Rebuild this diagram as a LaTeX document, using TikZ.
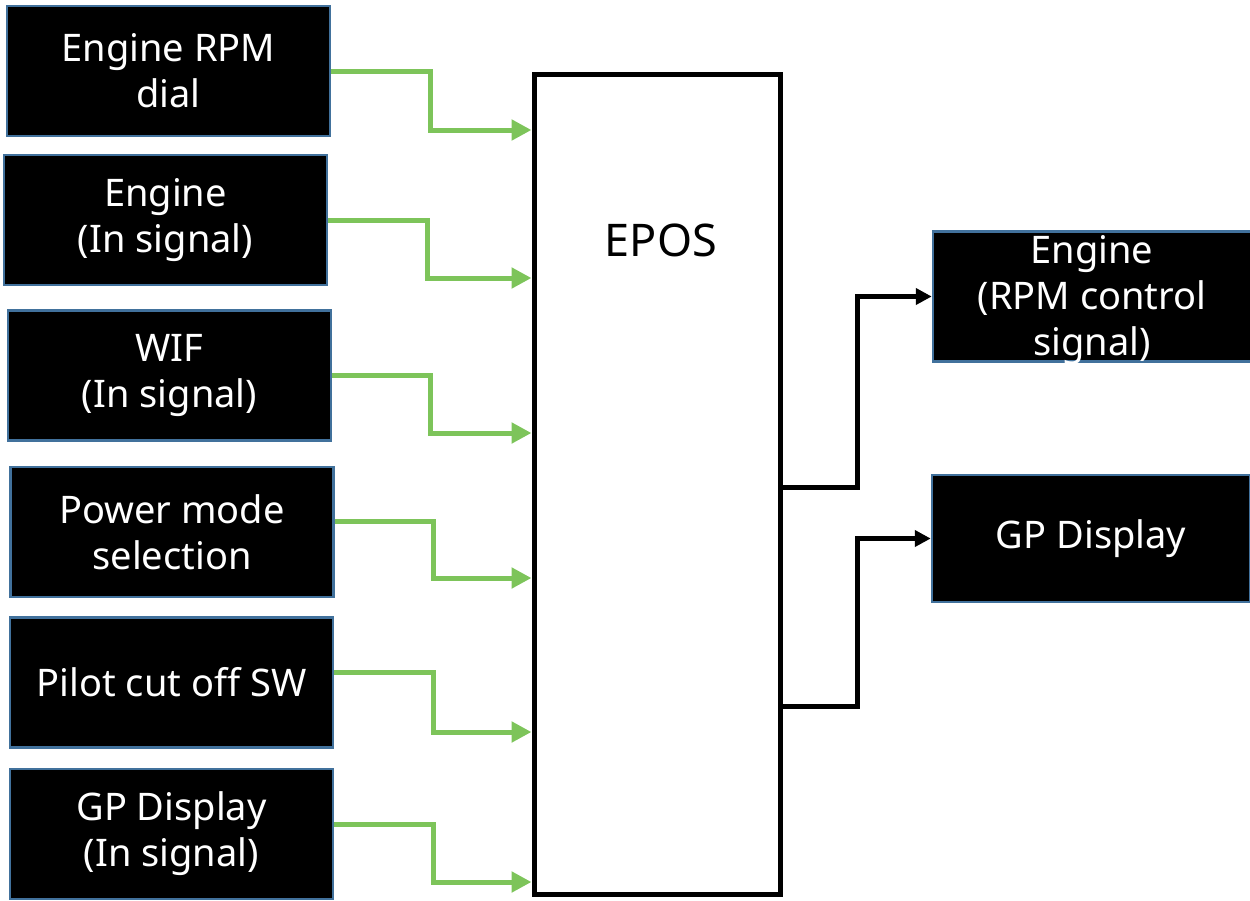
\documentclass[tikz,border=0pt]{standalone}
\usepackage{fontspec}
\setmainfont{Noto Sans}
\usetikzlibrary{arrows.meta}

\begin{document}
\begin{tikzpicture}[x=1pt, y=-1pt,
    inbox/.style={rectangle, fill=black, draw=boxline, line width=2.5pt, minimum width=323pt, minimum height=130pt, inner sep=0pt, text=white, align=center, font=\fontsize{38}{46}\selectfont},
    grn/.style={draw=siggreen, line width=5pt, -{Triangle[length=20pt,width=20pt]}},
    blk/.style={draw=black, line width=5pt, -{Triangle[length=16pt,width=16pt]}}
    ]
    \definecolor{boxline}{RGB}{65,113,156}
    \definecolor{siggreen}{RGB}{125,196,90}
    \useasboundingbox (0,0) rectangle (1250,900);

    % input boxes
    \node[inbox] (in1) at (168.5,71) {Engine RPM\\dial};
    \node[inbox] (in2) at (165.5,220) {Engine\\(In signal)};
    \node[inbox] (in3) at (169.5,375.5) {WIF\\(In signal)};
    \node[inbox] (in4) at (172,532) {Power mode\\selection};
    \node[inbox] (in5) at (171.5,682.5) {Pilot cut off SW};
    \node[inbox] (in6) at (171.5,834) {GP Display\\(In signal)};

    % controller
    \node[rectangle, fill=white, draw=black, line width=5pt, minimum width=246pt, minimum height=820pt] (epos) at (657,484.5) {};
    \node[font=\fontsize{45}{54}\selectfont] (eposlabel) at (661,240) {EPOS};

    % output boxes
    \node[inbox, minimum width=318pt, label={[text=white, align=center, font=\fontsize{38}{46}\selectfont, yshift=-4pt]center:Engine\\(RPM control\\signal)}] (out1) at (1092,296.5) {};
    \node[inbox, minimum width=318pt, minimum height=127pt] (out2) at (1091,538.5) {GP Display};

 \draw[grn] (in1.east) -- (430,71) |- (epos.west |- 0,130);
 \draw[grn] (in2.east) -- (427,220) |- (epos.west |- 0,278);
 \draw[grn] (in3.east) -- (430,375.5) |- (epos.west |- 0,433);
 \draw[grn] (in4.east |- 0,521) -- (433,521) |- (epos.west |- 0,578);
 \draw[grn] (in5.east |- 0,672) -- (433,672) |- (epos.west |- 0,732);
 \draw[grn] (in6.east |- 0,824) -- (433,824) |- (epos.west |- 0,882);

 \draw[blk] (epos.east |- 0,487) -| (857,296.5) -- (out1.west);
 \draw[blk] (epos.east |- 0,706) -| (857,538.5) -- (out2.west);

 \end{tikzpicture}
\end{document}
